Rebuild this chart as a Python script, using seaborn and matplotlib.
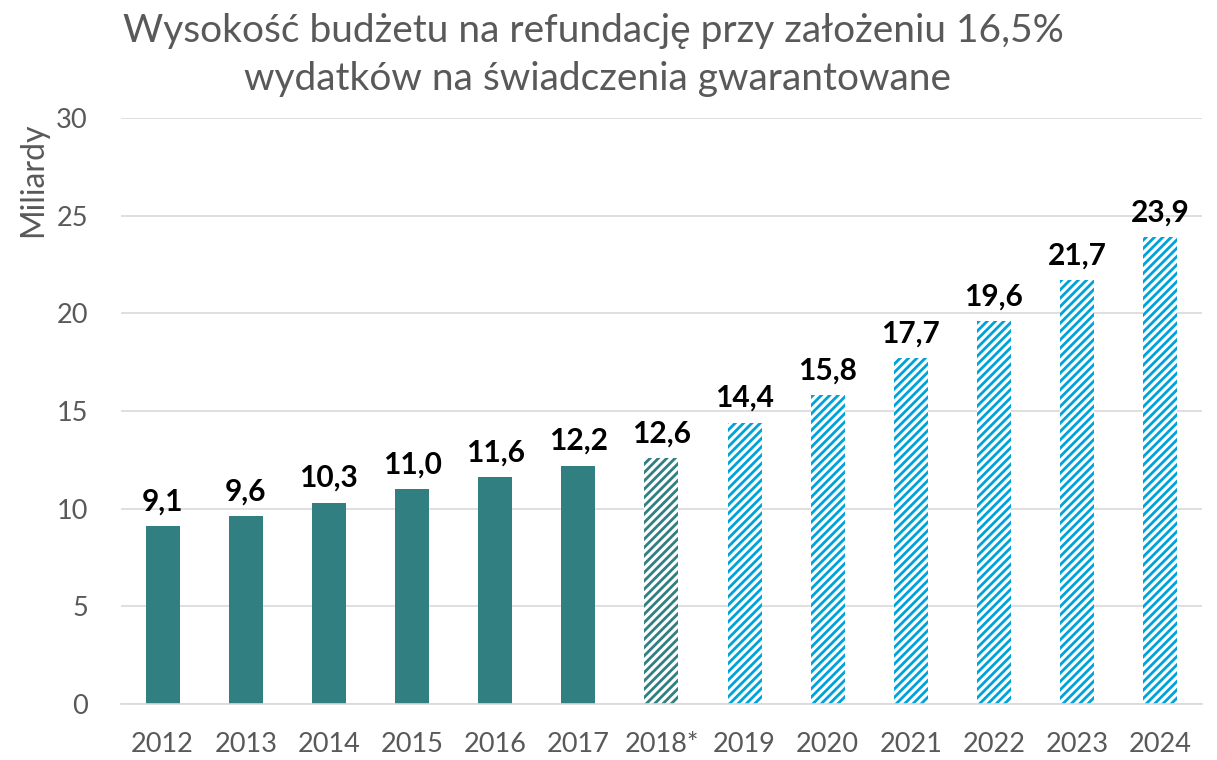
import matplotlib
matplotlib.use("Agg")
import matplotlib.pyplot as plt
import seaborn as sns
import pandas as pd

years = ["2012", "2013", "2014", "2015", "2016", "2017", "2018*", "2019", "2020", "2021", "2022", "2023", "2024"]
values = [9.1, 9.6, 10.3, 11.0, 11.6, 12.2, 12.6, 14.4, 15.8, 17.7, 19.6, 21.7, 23.9]
labels = ["9,1", "9,6", "10,3", "11,0", "11,6", "12,2", "12,6", "14,4", "15,8", "17,7", "19,6", "21,7", "23,9"]
kinds = ["actual"] * 6 + ["estimate"] + ["forecast"] * 6

title_lines = ["Wysokość budżetu na refundację przy założeniu 16,5%",
               "wydatków na świadczenia gwarantowane"]
ylabel = "Miliardy"

TEAL = "#327F82"
BLUE = "#00A3D9"
GRAY = "#595959"

sns.set_theme(style="white")
plt.rcParams["font.family"] = ["Lato", "DejaVu Sans"]
plt.rcParams["hatch.linewidth"] = 2.0

df = pd.DataFrame({"year": years, "value": values, "kind": kinds})
colors = [TEAL if k != "forecast" else BLUE for k in kinds]

fig = plt.figure(figsize=(12.17, 7.6), dpi=100)
ax = fig.add_axes([0.0995, 0.0737, 0.888, 0.771])
sns.barplot(data=df, x="year", y="value", hue="year", palette=colors, legend=False,
            width=0.41, ax=ax, saturation=1)

for patch, k, c in zip(ax.patches, kinds, colors):
    if k == "actual":
        patch.set_facecolor(c)
        patch.set_edgecolor(c)
        patch.set_linewidth(0)
    else:
        patch.set_facecolor("white")
        patch.set_edgecolor(c)
        patch.set_linewidth(0)
        patch.set_hatch("////")

for i, (v, lab) in enumerate(zip(values, labels)):
    ax.text(i, v + 0.55, lab, ha="center", va="bottom", fontsize=21.5, fontweight="bold", color="black")

ax.set_xlim(-0.5, 12.5)
ax.set_ylim(0, 30)
ax.set_yticks(range(0, 31, 5))
ax.yaxis.grid(True, color="#D9D9D9", linewidth=1.2)
ax.set_axisbelow(True)
for s in ["top", "right", "left"]:
    ax.spines[s].set_visible(False)
ax.spines["bottom"].set_color("#D9D9D9")
ax.spines["bottom"].set_linewidth(1.2)
ax.tick_params(axis="both", length=0, labelsize=19.5, labelcolor=GRAY)
ax.tick_params(axis="x", pad=20)
ax.tick_params(axis="y", pad=24)
ax.set_xlabel("")
ax.set_ylabel("")

fig.text(0.027, 0.763, ylabel, rotation=90, ha="center", va="center", fontsize=23, color=GRAY)
fig.text(0.488, 0.9447, title_lines[0], ha="center", va="baseline", fontsize=28, color=GRAY)
fig.text(0.491, 0.8816, title_lines[1], ha="center", va="baseline", fontsize=28, color=GRAY)

fig.savefig("out.png", dpi=100)
